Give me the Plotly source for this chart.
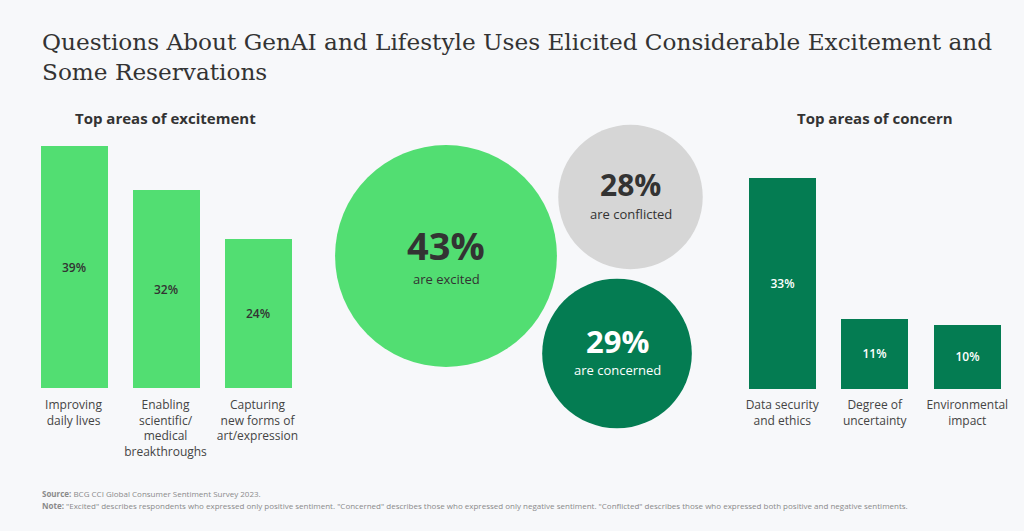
import plotly.graph_objects as go

W, H = 1024, 531

# ---- data ----
excite_cats = ["Improving<br>daily lives", "Enabling<br>scientific/<br>medical<br>breakthroughs",
               "Capturing<br>new forms of<br>art/expression"]
excite_vals = [39, 32, 24]
concern_cats = ["Data security<br>and ethics", "Degree of<br>uncertainty", "Environmental<br>impact"]
concern_vals = [33, 11, 10]
sentiment_labels = ["are excited", "are conflicted", "are concerned"]
sentiment_vals = [43, 28, 29]

# ---- layout constants (pixels) ----
BG = "#F7F8FA"
LIGHT = "#52DE72"
DARK = "#047C52"
GRAY = "#D6D6D6"
TXT = "#333333"
SANS = "Open Sans, Noto Sans, sans-serif"

bubble_x = [446, 630.5, 617]
bubble_y = [256, 197, 353.5]
bubble_colors = [LIGHT, GRAY, DARK]
bubble_text_colors = [TXT, TXT, "#FFFFFF"]
big_sizes = [38, 30, 31]
num_offsets = [-11, -12.5, -13]
lab_offsets = [23, 16.5, 16]
px_per_unit_radius = 2.58


def fx(p):
    return p / W


def fy(p):
    return 1 - p / H


fig = go.Figure()

# left bars
fig.add_trace(go.Bar(
    x=[0, 1, 2], y=excite_vals, width=67 / 92, marker=dict(color=LIGHT, line=dict(width=0)),
    text=[f"{v}%" for v in excite_vals], textposition="inside", insidetextanchor="middle",
    textangle=0, textfont=dict(family=SANS, size=12, color=TXT, weight=600),
    xaxis="x", yaxis="y", hoverinfo="skip", showlegend=False,
))
# right bars
fig.add_trace(go.Bar(
    x=[0, 1, 2], y=concern_vals, width=67 / 92.5, marker=dict(color=DARK, line=dict(width=0)),
    text=[f"{v}%" for v in concern_vals], textposition="inside", insidetextanchor="middle",
    textangle=0, textfont=dict(family=SANS, size=12, color="#FFFFFF", weight=600),
    xaxis="x2", yaxis="y2", hoverinfo="skip", showlegend=False,
))
# bubbles: diameter proportional to value
fig.add_trace(go.Scatter(
    x=bubble_x, y=bubble_y, mode="markers",
    marker=dict(size=sentiment_vals, sizemode="diameter", sizeref=1 / (2 * px_per_unit_radius),
                color=bubble_colors, line=dict(width=0), opacity=1),
    xaxis="x3", yaxis="y3", hoverinfo="skip", showlegend=False,
))

annotations = []
for v, lab, x, y, c, s, no, lo in zip(sentiment_vals, sentiment_labels, bubble_x, bubble_y,
                                      bubble_text_colors, big_sizes, num_offsets, lab_offsets):
    annotations.append(dict(x=x, y=y + no, xref="x3", yref="y3", text=f"<b>{v}%</b>",
                            showarrow=False, font=dict(family=SANS, size=s, color=c),
                            xanchor="center", yanchor="middle", borderpad=0))
    annotations.append(dict(x=x, y=y + lo, xref="x3", yref="y3", text=lab,
                            showarrow=False, font=dict(family=SANS, size=13, color=c),
                            xanchor="center", yanchor="middle", borderpad=0))

# title
annotations.append(dict(
    x=fx(40), y=fy(26), xref="paper", yref="paper", xanchor="left", yanchor="top", align="left",
    text="Questions About GenAI and Lifestyle Uses Elicited Considerable Excitement and<br>Some Reservations",
    showarrow=False, font=dict(family="DejaVu Serif, serif", size=23.2, color=TXT)))
# panel subtitles
annotations.append(dict(x=fx(165.5), y=fy(118), xref="paper", yref="paper", xanchor="center", yanchor="middle",
                        text="<b>Top areas of excitement</b>",
                        showarrow=False, font=dict(family=SANS, size=15, color=TXT)))
annotations.append(dict(x=fx(874.5), y=fy(118), xref="paper", yref="paper", xanchor="center", yanchor="middle",
                        text="<b>Top areas of concern</b>",
                        showarrow=False, font=dict(family=SANS, size=15, color=TXT)))
# footnotes
annotations.append(dict(x=fx(40), y=fy(493), xref="paper", yref="paper", xanchor="left", yanchor="middle",
                        text="<b>Source:</b> BCG CCI Global Consumer Sentiment Survey 2023.",
                        showarrow=False, font=dict(family=SANS, size=8, color="#8A8A8A")))
annotations.append(dict(x=fx(40), y=fy(505), xref="paper", yref="paper", xanchor="left", yanchor="middle",
                        text="<b>Note:</b> \"Excited\" describes respondents who expressed only positive sentiment. "
                             "\"Concerned\" describes those who expressed only negative sentiment. "
                             "\"Conflicted\" describes those who expressed both positive and negative sentiments.",
                        showarrow=False, font=dict(family=SANS, size=8, color="#8A8A8A")))

tickfont = dict(family=SANS, size=12, color="#444444")
fig.update_layout(
    width=W, height=H, margin=dict(l=0, r=0, t=0, b=0),
    paper_bgcolor=BG, plot_bgcolor="rgba(0,0,0,0)",
    bargap=0,
    xaxis=dict(domain=[fx(27.5), fx(303.5)], range=[-0.5, 2.5], tickvals=[0, 1, 2], ticktext=excite_cats,
               showgrid=False, zeroline=False, showline=False, ticks="", tickfont=tickfont,
               ticklabelstandoff=8, fixedrange=True),
    yaxis=dict(domain=[fy(388), fy(140)], range=[0, 40], visible=False, fixedrange=True),
    xaxis2=dict(domain=[fx(736), fx(1013.5)], range=[-0.5, 2.5], tickvals=[0, 1, 2], ticktext=concern_cats,
                showgrid=False, zeroline=False, showline=False, ticks="", tickfont=tickfont, anchor="y2",
                ticklabelstandoff=7, fixedrange=True),
    yaxis2=dict(domain=[fy(389), fy(158.6)], range=[0, 36], visible=False, anchor="x2", fixedrange=True),
    xaxis3=dict(domain=[0, 1], range=[0, W], visible=False, anchor="y3", fixedrange=True),
    yaxis3=dict(domain=[0, 1], range=[H, 0], visible=False, anchor="x3", fixedrange=True),
    annotations=annotations,
)

fig.write_html("out.html", config=dict(displayModeBar=False),
               post_script="document.body.style.margin='0';document.body.style.overflow='hidden';"
                           "document.body.style.background='" + BG + "';")
